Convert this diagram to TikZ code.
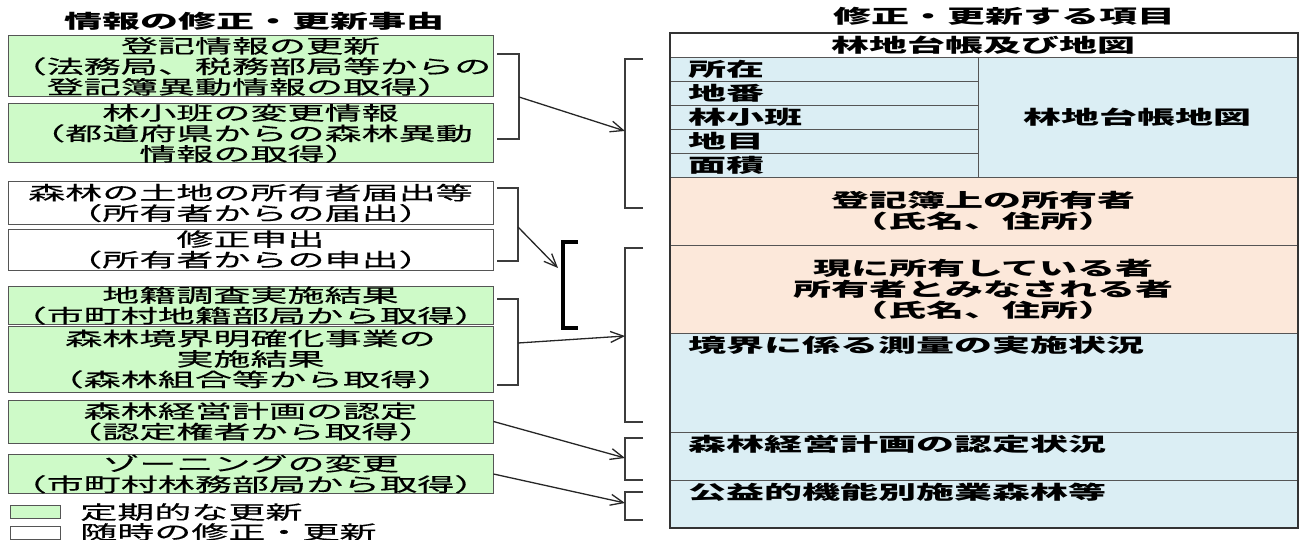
\documentclass[tikz,border=0pt]{standalone}
\usepackage{fontspec}
\newfontfamily\jp[FakeStretch=1.95,FakeBold=0.4]{Noto Sans CJK JP}
\newfontfamily\jpb[FakeStretch=2.0]{Noto Sans CJK JP}
\usetikzlibrary{arrows.meta}
\definecolor{grn}{RGB}{206,250,200}
\definecolor{blu}{RGB}{219,238,244}
\definecolor{pch}{RGB}{252,232,218}
\definecolor{edge}{RGB}{85,85,85}
\definecolor{brk}{RGB}{60,60,60}
\begin{document}
\begin{tikzpicture}[x=1pt,y=-1pt,
  txt/.style={font=\jp\fontsize{19}{20.5}\selectfont, inner sep=0pt, align=center},
  ttl/.style={font=\jpb\bfseries\fontsize{19}{20.5}\selectfont, inner sep=0pt},
  lbox/.style={txt, draw=edge, line width=1pt, fill=grn, minimum width=485pt},
  wbox/.style={lbox, fill=white},
  cell/.style={draw=edge, line width=1pt, inner sep=0pt, anchor=north west},
  clab/.style={font=\jpb\bfseries\fontsize{19}{21}\selectfont, inner sep=0pt, align=center},
  brkline/.style={draw=brk, line width=1.8pt},
  arr/.style={draw=black!85, line width=1.3pt, -{Straight Barb[length=13pt,width=11pt,line width=1.3pt]}}
]
\useasboundingbox (0,0) rectangle (1306,540);
% titles
\node[ttl] (t1) at (254,21) {情報の修正・更新事由};
\node[ttl] (t2) at (1004,16) {修正・更新する項目};
% left boxes
\node[lbox, minimum height=61pt] (b1) at (250.5,66.5) {登記情報の更新\\（法務局、税務部局等からの\\登記簿異動情報の取得）};
\node[lbox, minimum height=59pt] (b2) at (250.5,133.5) {林小班の変更情報\\（都道府県からの森林異動\\情報の取得）};
\node[wbox, minimum height=42pt] (b3) at (250.5,203) {森林の土地の所有者届出等\\（所有者からの届出）};
\node[wbox, minimum height=41pt] (b4) at (250.5,249.5) {修正申出\\（所有者からの申出）};
\node[lbox, minimum height=37pt] (b5) at (250.5,305.5) {地籍調査実施結果\\（市町村地籍部局から取得）};
\node[lbox, minimum height=66pt] (b6) at (250.5,359) {森林境界明確化事業の\\実施結果\\（森林組合等から取得）};
\node[lbox, minimum height=43pt] (b7) at (250.5,421.5) {森林経営計画の認定\\（認定権者から取得）};
\node[lbox, minimum height=38pt] (b8) at (250.5,474) {ゾーニングの変更\\（市町村林務部局から取得）};
% legend
\node[draw=edge, line width=1pt, fill=grn, minimum width=50pt, minimum height=13pt, inner sep=0pt] (lg1) at (35,512) {};
\node[txt, anchor=west] (lt1) at (80,512) {定期的な更新};
\node[draw=edge, line width=1pt, fill=white, minimum width=50pt, minimum height=13pt, inner sep=0pt] (lg2) at (35,532.5) {};
\node[txt, anchor=west] (lt2) at (80,532) {随時の修正・更新};
% right table
\node[cell, fill=white, minimum width=627pt, minimum height=24pt] (hd) at (670,33) {};
\node[clab] (hdt) at (983.5,45) {林地台帳及び地図};
\node[cell, fill=blu, minimum width=308pt, minimum height=24pt] (c1) at (670,57) {};
\node[cell, fill=blu, minimum width=308pt, minimum height=24pt] (c2) at (670,81) {};
\node[cell, fill=blu, minimum width=308pt, minimum height=24pt] (c3) at (670,105) {};
\node[cell, fill=blu, minimum width=308pt, minimum height=24pt] (c4) at (670,129) {};
\node[cell, fill=blu, minimum width=308pt, minimum height=24pt] (c5) at (670,153) {};
\node[clab, anchor=west] (c1t) at (688,69) {所在};
\node[clab, anchor=west] (c2t) at (688,93) {地番};
\node[clab, anchor=west] (c3t) at (688,117) {林小班};
\node[clab, anchor=west] (c4t) at (688,141) {地目};
\node[clab, anchor=west] (c5t) at (688,165) {面積};
\node[cell, fill=blu, minimum width=319pt, minimum height=120pt] (map) at (978,57) {};
\node[clab] (mapt) at (1137.5,117) {林地台帳地図};
\node[cell, fill=pch, minimum width=627pt, minimum height=68pt] (p1) at (670,177) {};
\node[clab] (p1t) at (983.5,211) {登記簿上の所有者\\（氏名、住所）};
\node[cell, fill=pch, minimum width=627pt, minimum height=88pt] (p2) at (670,245) {};
\node[clab] (p2t) at (983.5,289) {現に所有している者\\所有者とみなされる者\\（氏名、住所）};
\node[cell, fill=blu, minimum width=627pt, minimum height=99pt] (r1) at (670,333) {};
\node[clab, anchor=west] (r1t) at (688,345) {境界に係る測量の実施状況};
\node[cell, fill=blu, minimum width=627pt, minimum height=48pt] (r2) at (670,432) {};
\node[clab, anchor=west] (r2t) at (688,444) {森林経営計画の認定状況};
\node[cell, fill=blu, minimum width=627pt, minimum height=47pt] (r3) at (670,480) {};
\node[clab, anchor=west] (r3t) at (688,492) {公益的機能別施業森林等};
\draw[black!80, line width=2pt] (hd.north west) rectangle (r3.south east);
% brackets (left side, closing)
\coordinate (A1) at (497,54); \coordinate (A2) at (519,54); \coordinate (A3) at (519,139); \coordinate (A4) at (497,139); \coordinate (Am) at (519,97);
\coordinate (C1) at (497,188); \coordinate (C2) at (518,188); \coordinate (C3) at (518,261); \coordinate (C4) at (497,261); \coordinate (Cm) at (518,227);
\coordinate (E1) at (497,299); \coordinate (E2) at (518,299); \coordinate (E3) at (518,385); \coordinate (E4) at (497,385); \coordinate (Em) at (518,343);
\draw[brkline] (A1) -- (A2) -- (A3) -- (A4);
\draw[brkline] (C1) -- (C2) -- (C3) -- (C4);
\draw[brkline] (E1) -- (E2) -- (E3) -- (E4);
% brackets (right side, opening)
\coordinate (B1) at (643,59); \coordinate (B2) at (625,59); \coordinate (B3) at (625,208); \coordinate (B4) at (643,208); \coordinate (Bm) at (625,131);
\coordinate (D1) at (578,242); \coordinate (D2) at (563,242); \coordinate (D3) at (563,328); \coordinate (D4) at (578,328); \coordinate (Dm) at (558,268);
\coordinate (F1) at (643,248); \coordinate (F2) at (625,248); \coordinate (F3) at (625,422); \coordinate (F4) at (643,422); \coordinate (Fm) at (625,336);
\coordinate (G1) at (643,438); \coordinate (G2) at (625,438); \coordinate (G3) at (625,480); \coordinate (G4) at (643,480); \coordinate (Gm) at (625,458);
\coordinate (H1) at (643,492); \coordinate (H2) at (625,492); \coordinate (H3) at (625,520); \coordinate (H4) at (643,520); \coordinate (Hm) at (625,503);
\draw[brkline] (B1) -- (B2) -- (B3) -- (B4);
\draw[black, line width=3.2pt] (D1) -- (D2) -- (D3) -- (D4);
\draw[brkline] (F1) -- (F2) -- (F3) -- (F4);
\draw[brkline] (G1) -- (G2) -- (G3) -- (G4);
\draw[brkline] (H1) -- (H2) -- (H3) -- (H4);
% arrows
\draw[arr] (Am) -- (Bm);
\draw[arr] (Cm) -- (Dm);
\draw[arr] (Em) -- (Fm);
\draw[arr] (b7.east) -- (Gm);
\draw[arr] (b8.east) -- (Hm);
\end{tikzpicture}
\end{document}
